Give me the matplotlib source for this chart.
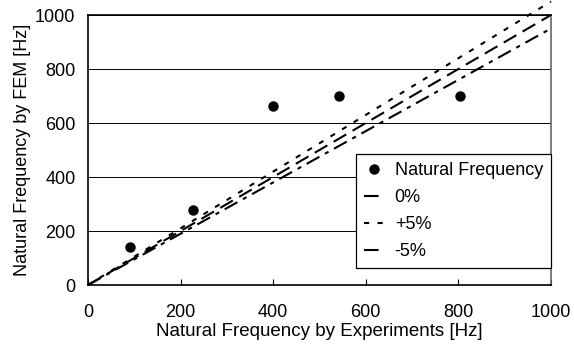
import matplotlib.pyplot as plt
import numpy as np

plt.rcParams['font.family'] = ['Liberation Sans', 'DejaVu Sans']

# measured points
exp_freq = [91, 227, 400, 542, 803]
fem_freq = [141, 278, 664, 700, 700]

# reference lines
line_x = [0, 1000]
ratios = [1.0, 1.05, 0.95]
labels = ['0%', '+5%', '-5%']
styles = [(0, (7, 3.5)), (0, (2.5, 4)), (0, (7, 3, 2, 3))]

fig = plt.figure(figsize=(5.74, 3.49), dpi=100)
ax = fig.add_axes([88 / 574, 1 - 285 / 349, 463 / 574, 270 / 349])

ax.plot(exp_freq, fem_freq, 'o', color='black', markersize=6.5, label='Natural Frequency', zorder=3)
for r, lab, ls in zip(ratios, labels, styles):
    ax.plot(line_x, [v * r for v in line_x], color='black', linestyle=ls,
            linewidth=1.5, label=lab, clip_on=False)

ax.set_xlim(0, 1000)
ax.set_ylim(0, 1000)
ax.set_xticks(np.arange(0, 1001, 200))
ax.set_yticks(np.arange(0, 1001, 200))
ax.yaxis.grid(True, color='black', linewidth=0.7)
ax.set_axisbelow(True)
ax.tick_params(axis='x', direction='in', length=4, labelsize=13, pad=14)
ax.tick_params(axis='y', length=0, labelsize=13, pad=9)
for s in ax.spines.values():
    s.set_linewidth(1.2)
    s.set_color('black')
ax.spines['right'].set_color('#666666')

ax.set_xlabel('Natural Frequency by Experiments [Hz]', fontsize=13.5, labelpad=1)
ax.set_ylabel('Natural Frequency by FEM [Hz]', fontsize=13, labelpad=3)

leg = ax.legend(loc='lower right', bbox_to_anchor=(1.0, 0.063), fontsize=13,
                frameon=True, fancybox=False, edgecolor='black', framealpha=1,
                handlelength=1.1, handletextpad=0.6, borderpad=0.45,
                labelspacing=0.55, borderaxespad=0)
leg.get_frame().set_linewidth(0.9)

fig.savefig('out.png', dpi=100)
